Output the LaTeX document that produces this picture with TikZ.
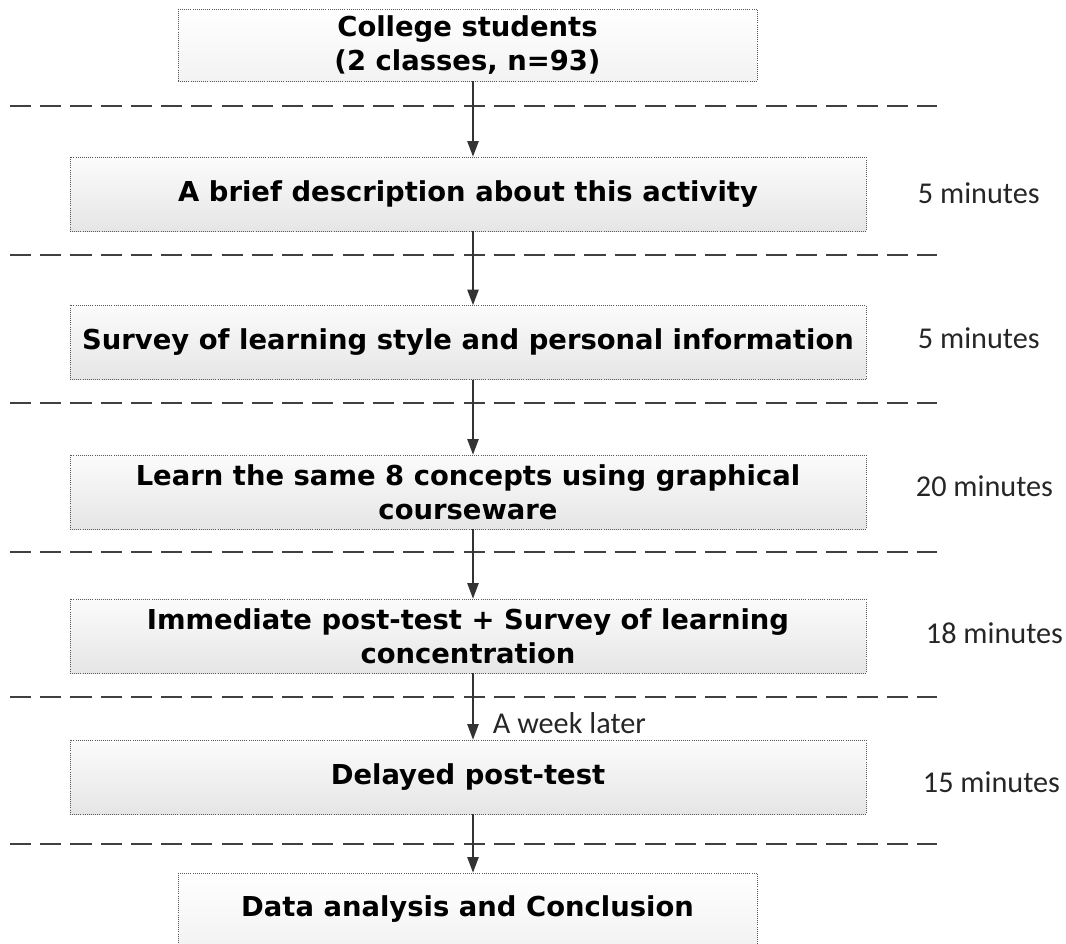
\documentclass[tikz,border=0pt]{standalone}
\usepackage{xcolor}
\usepackage{fontspec}
\setmainfont{DejaVu Sans}
\newfontfamily\calib{Carlito}
\usepackage{tikz}
\usetikzlibrary{positioning, calc, arrows.meta, shadings}

\tikzset{
	stage/.style={draw=gray!70!black, densely dotted, line width=0.5pt, top color=gray!3, bottom color=gray!20, minimum width=19.9cm, minimum height=1.85cm, align=center, font=\fontsize{19.5}{24}\selectfont\bfseries},
	endstage/.style={stage, top color=white, bottom color=gray!10, minimum width=14.475cm, minimum height=1.8cm},
	timelabel/.style={anchor=west, font=\calib\fontsize{21.5}{24}\selectfont, text=black!85},
	flow/.style={draw=black!80, line width=1.1pt, -{Triangle[length=11pt, width=8pt]}},
	sepline/.style={draw=black!75, line width=0.9pt, dash pattern=on 15pt off 6.5pt}
}

\begin{document}
\begin{tikzpicture}[x=0.025cm, y=-0.025cm]
		
		\useasboundingbox (0,0) rectangle (1066,944);
		
		%//separators between the stages
		\foreach \y in {106, 255, 403, 552, 697, 844}
		\draw [sepline] (10, \y) -- (937, \y);
		
		\node [endstage] (students) at (467.5, 45) {College students\\(2 classes, n=93)};
		\node [stage] (intro) at (468, 194) {A brief description about this activity};
		\node [stage] (survey) at (468, 342.5) {Survey of learning style and personal information};
		\node [stage] (learn) at (468, 492) {Learn the same 8 concepts using graphical\\courseware};
		\node [stage] (posttest) at (468, 636) {Immediate post-test + Survey of learning\\concentration};
		\node [stage] (delayed) at (468, 777) {Delayed post-test};
		\node [endstage] (analysis) at (467.5, 909) {Data analysis and Conclusion};
		
		\coordinate (axis) at (473, 0);
		\draw [flow] (students.south -| axis) -- (intro.north -| axis);
		\draw [flow] (intro.south -| axis) -- (survey.north -| axis);
		\draw [flow] (survey.south -| axis) -- (learn.north -| axis);
		\draw [flow] (learn.south -| axis) -- (posttest.north -| axis);
		\draw [flow] (posttest.south -| axis) -- (delayed.north -| axis);
		\draw [flow] (delayed.south -| axis) -- (analysis.north -| axis);
		
		\node [timelabel] (weeklater) at (488, 723) {A week later};
		
		\node [timelabel] (t1) at (913, 193) {5 minutes};
		\node [timelabel] (t2) at (913, 338) {5 minutes};
		\node [timelabel] (t3) at (911, 486) {20 minutes};
		\node [timelabel] (t4) at (921, 633) {18 minutes};
		\node [timelabel] (t5) at (918, 782) {15 minutes};
		
		\end{tikzpicture}
\end{document}
